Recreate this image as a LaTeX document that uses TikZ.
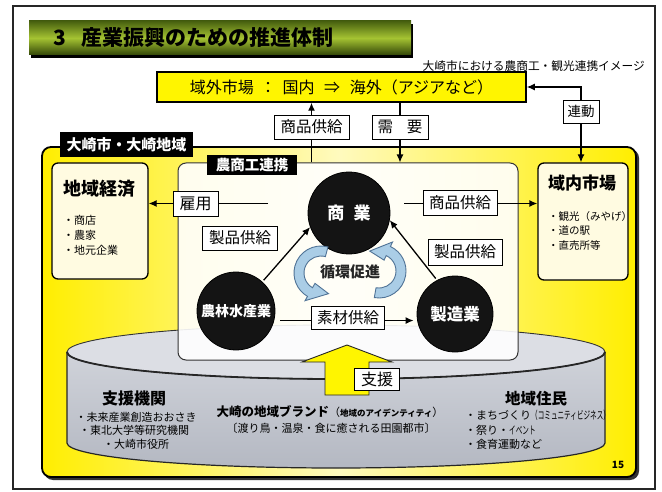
\documentclass[tikz,border=0pt]{standalone}
\usepackage{fontspec}
\setmainfont{Noto Sans CJK JP}
\usepackage{graphicx}
\usetikzlibrary{arrows.meta,calc}
\newcommand\fsz[1]{\fontsize{#1}{#1}\selectfont}
\definecolor{ylw}{RGB}{255,238,0}
\definecolor{ylwpale}{RGB}{255,250,190}
\definecolor{boxyl}{RGB}{255,245,0}
\definecolor{cream}{RGB}{255,251,225}
\definecolor{tgtop}{RGB}{70,95,15}
\definecolor{tgmid}{RGB}{165,195,50}
\definecolor{tgbot}{RGB}{50,70,8}
\definecolor{cyltop}{RGB}{220,222,228}
\definecolor{cylA}{RGB}{208,211,218}
\definecolor{cylB}{RGB}{180,184,194}
\definecolor{cycfill}{RGB}{170,205,230}
\definecolor{cycdraw}{RGB}{80,115,150}
\begin{document}
\begin{tikzpicture}[x=1pt,y=-1pt,
 arr/.style={line width=1.3pt,-{Latex[length=8pt,width=7pt]}},
 dblarr/.style={line width=1.3pt,{Latex[length=8pt,width=7pt]}-{Latex[length=8pt,width=7pt]}},
 lbl/.style={draw=black,line width=0.9pt,fill=white,inner xsep=5.5pt,inner ysep=1pt,minimum height=24pt,font=\fsz{15.5}},
 tag/.style={fill=black,text=white,inner ysep=1pt,font=\bfseries\fsz{15}},
 ball/.style={circle,fill=black!92,draw=black,line width=0.8pt,text=white,inner sep=0pt,font=\bfseries\fsz{16}},
 sidebox/.style={draw=black,line width=1.3pt,fill=cream,rounded corners=6pt,inner sep=0pt},
 cyc/.style={fill=cycfill,draw=cycdraw,line width=0.9pt},
 txt/.style={inner sep=0pt,anchor=west},
 ctxt/.style={inner sep=0pt}
]
\useasboundingbox (0,0) rectangle (662,492);
\fill[white] (0,0) rectangle (662,492);
\draw[black!85,line width=1.2pt] (13,6) rectangle (655,489);

% title bar
\fill[black] (31,24) rectangle (413,58);
\shade[top color=tgtop,bottom color=tgbot,middle color=tgmid] (29,21) rectangle (411,55);
\node[txt,font=\bfseries\fsz{21}] (title) at (53,38) {3\hspace{0.75em}産業振興のための推進体制};
\node[inner sep=0pt,anchor=east,font=\fsz{11.7}] (subtitle) at (645,66) {大崎市における農商工・観光連携イメージ};

% yellow region
\fill[black!80,rounded corners=9pt] (44,149) rectangle (639,480);
\shade[left color=ylw,right color=ylw,middle color=ylwpale,rounded corners=9pt] (42,147) rectangle (636,477);
\draw[line width=1.8pt,rounded corners=9pt] (42,147) rectangle (636,477);

% cylinder
\shade[top color=cylA,bottom color=cylB] (67,352) -- (67,443) arc[start angle=180,end angle=0,x radius=269,y radius=25] -- (605,352) arc[start angle=0,end angle=180,x radius=269,y radius=27] -- cycle;
\draw[line width=1.2pt,black!85] (67,352) -- (67,443) arc[start angle=180,end angle=0,x radius=269,y radius=25] -- (605,352);
\fill[cyltop] (336,352) ellipse[x radius=269,y radius=27];
\draw[line width=0.9pt,black!80] (336,352) ellipse[x radius=269,y radius=27];
\draw[line width=1.8pt,black!85] (67,352) arc[start angle=180,end angle=0,x radius=269,y radius=27];

% cylinder texts
\node[ctxt,font=\bfseries\fsz{16}] (shienkikan) at (134,398) {支援機関};
\node[ctxt,font=\fsz{11}] (sk1) at (136,417) {・未来産業創造おおさき};
\node[ctxt,font=\fsz{11}] (sk2) at (134,430) {・東北大学等研究機関};
\node[ctxt,font=\fsz{11}] (sk3) at (136,444) {・大崎市役所};
\node[ctxt] (brand) at (330,412) {{\bfseries\fsz{12.5}大崎の地域ブランド}{\fsz{11}（}{\bfseries\fsz{8.5}地域のアイデンティティ}{\fsz{11}）}};
\node[ctxt,font=\fsz{11}] (brand2) at (331,428) {〔渡り鳥・温泉・食に癒される田園都市〕};
\node[ctxt,font=\bfseries\fsz{15.5}] (jumin) at (536,399) {地域住民};
\node[txt,font=\fsz{11}] (jm1) at (465,415) {・まちづくり\scalebox{0.6}[1]{（コミュニティビジネス）}};
\node[txt,font=\fsz{11}] (jm2) at (465,430) {・祭り・\scalebox{0.6}[1]{イベント}};
\node[txt,font=\fsz{11}] (jm3) at (465,444) {・食育運動など};
\node[ctxt,font=\bfseries\fsz{10}] (page) at (618,465) {15};

% main boxes
\node[draw=black!80,line width=1pt,fill=white,fill opacity=0.9,rounded corners=8pt,minimum width=340pt,minimum height=197pt,inner sep=0pt] (noshoko) at (348,261.5) {};
\node[sidebox,minimum width=96pt,minimum height=116pt] (keizai) at (100,221) {};
\node[txt,font=\bfseries\fsz{18}] (keizaiT) at (63,189) {地域経済};
\node[txt,font=\fsz{11}] (kz1) at (63,220) {・商店};
\node[txt,font=\fsz{11}] (kz2) at (63,235) {・農家};
\node[txt,font=\fsz{11}] (kz3) at (63,250) {・地元企業};
\node[sidebox,minimum width=90pt,minimum height=117pt] (nainai) at (583,221.5) {};
\node[txt,font=\bfseries\fsz{17}] (nainaiT) at (548,183) {域内市場};
\node[txt,font=\fsz{10.5}] (nn1) at (548,217) {・観光（みやげ）};
\node[txt,font=\fsz{10.5}] (nn2) at (548,231) {・道の駅};
\node[txt,font=\fsz{10.5}] (nn3) at (548,245) {・直売所等};

% circles
\node[ball,minimum size=82pt,font=\bfseries\fsz{17}] (shogyo) at (349,213) {商\hspace{0.55em}業};
\node[ball,minimum size=78pt,font=\bfseries\fsz{14}] (nourin) at (236,311) {農林水産業};
\node[ball,minimum size=76pt,font=\bfseries\fsz{16.5}] (seizo) at (455,314) {製造業};

% cycle arrows
\coordinate (C1) at (321,273);
\coordinate (C2) at (379,271);
\filldraw[cyc] ($(C1)+(-75:27)$) arc[start angle=-75,end angle=-240,radius=27] -- ($(C1)+(-240:32)$) -- ($(C1)+(-290:22)$) -- ($(C1)+(-240:12)$) -- ($(C1)+(-240:17)$) arc[start angle=-240,end angle=-75,radius=17] -- cycle;
\filldraw[cyc] ($(C2)+(100:27)$) arc[start angle=100,end angle=-65,radius=27] -- ($(C2)+(-65:32)$) -- ($(C2)+(-115:22)$) -- ($(C2)+(-65:12)$) -- ($(C2)+(-65:17)$) arc[start angle=-65,end angle=100,radius=17] -- cycle;
\node[ctxt,font=\bfseries\fsz{15},text=black!85] (junkan) at (350,272) {循環促進};

% arrows among circles
\draw[arr,shorten <=2pt] (nourin.48) -- (shogyo.200);
\draw[arr,shorten <=2pt] (seizo.118) -- (shogyo.-10);
\draw[arr,shorten <=6pt,shorten >=3pt] (nourin.-14) -- (nourin.-14 -| seizo.west);
\node[lbl,minimum width=72pt,minimum height=23pt] (sozai) at (348,318) {素材供給};
\node[lbl,minimum width=75pt] (seihin1) at (240,238) {製品供給};
\node[lbl,minimum width=74pt,minimum height=26pt] (seihin2) at (465,252) {製品供給};

% employment and product supply to side boxes
\coordinate (koyoS) at (268,203.5);
\draw[arr] (koyoS) -- (koyoS -| keizai.east);
\node[lbl,minimum width=45pt,minimum height=25pt,font=\fsz{16}] (koyo) at (195.5,203.5) {雇用};
\coordinate (shohinS) at (404,203.5);
\draw[arr] (shohinS) -- (shohinS -| nainai.west);
\node[lbl,minimum width=74pt,minimum height=25pt] (shohin2) at (460,202.5) {商品供給};

% support arrow
\filldraw[fill=boxyl,draw=black!85,line width=0.9pt] (347,345) -- (392,362) -- (369,362) -- (369,395) -- (325,395) -- (325,362) -- (302,362) -- cycle;
\node[lbl,minimum width=45pt,minimum height=22pt,font=\fsz{16}] (shien) at (377,379) {支援};

% tags
\node[tag,minimum width=133pt,minimum height=25pt] (osakiTag) at (126.5,144.5) {大崎市・大崎地域};
\node[tag,minimum width=90pt,minimum height=20pt,font=\bfseries\fsz{14.5}] (noshokoTag) at (252,165) {農商工連携};

% top box and its arrows
\node[draw=black,line width=1.5pt,fill=boxyl,minimum width=369pt,minimum height=30pt,inner sep=0pt,font=\fsz{16}] (gaibu) at (341.5,87) {域外市場\hspace{0.4em}：\hspace{0.4em}国内\hspace{0.6em}⇒\hspace{0.6em}海外（アジアなど）};
\node[lbl,minimum width=75pt,draw=none,fill=none] (shohin1) at (311.5,127) {\phantom{商品供給}};
\node[lbl,minimum width=56pt,draw=none,fill=none] (juyo) at (400,127) {\phantom{需要}};
\node[lbl,minimum width=36pt,draw=none,fill=none] (rendo) at (581,111.5) {\phantom{連動}};
\draw[arr] (noshoko.north -| shohin1) -- (gaibu.south -| shohin1);
\draw[arr] (gaibu.south -| juyo) -- (noshoko.north -| juyo);
\draw[dblarr] (gaibu.east) -| (nainai.north -| rendo);
\node[lbl,minimum width=75pt] at (shohin1) {商品供給};
\node[lbl,minimum width=56pt] at (juyo) {需\hspace{0.9em}要};
\node[lbl,minimum width=36pt,minimum height=23pt,inner xsep=4pt,font=\fsz{13.5}] at (rendo) {連動};
\end{tikzpicture}
\end{document}
